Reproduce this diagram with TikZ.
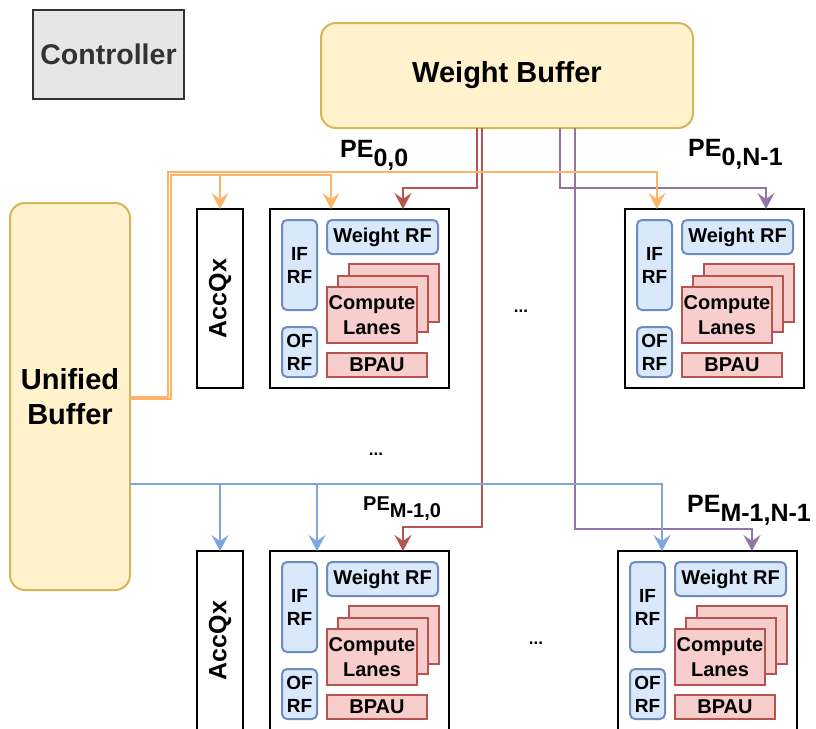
\documentclass[tikz,border=0pt]{standalone}
\usepackage{fontspec}
\setmainfont{Liberation Sans}
\usetikzlibrary{arrows.meta}
\definecolor{ylfill}{HTML}{FFF2CC}
\definecolor{yldraw}{HTML}{D6B656}
\definecolor{blfill}{HTML}{DAE8FC}
\definecolor{bldraw}{HTML}{6C8EBF}
\definecolor{rdfill}{HTML}{F8CECC}
\definecolor{rddraw}{HTML}{B85450}
\definecolor{orln}{HTML}{FFB366}
\definecolor{puln}{HTML}{9673A6}
\definecolor{blln}{HTML}{7EA6E0}
\definecolor{gyfill}{HTML}{E6E6E6}
\definecolor{gydraw}{HTML}{333333}
\tikzset{
  nw/.style={anchor=north west, inner sep=0pt, outer sep=0pt, line width=2pt, align=center},
  buffer/.style={nw, draw=yldraw, fill=ylfill, rounded corners=15pt, font=\bfseries\fontsize{29}{35}\selectfont},
  pebox/.style={nw, draw=black, fill=white, minimum width=179pt, minimum height=179pt},
  accbox/.style={nw, draw=black, fill=white, minimum width=46pt, minimum height=179pt},
  rf/.style={nw, draw=bldraw, fill=blfill, rounded corners=5pt, font=\bfseries\fontsize{19}{23}\selectfont},
  lane/.style={nw, draw=rddraw, fill=rdfill, font=\bfseries\fontsize{20}{25}\selectfont},
  pelabel/.style={anchor=base west, inner sep=0pt, font=\bfseries\fontsize{25}{30}\selectfont},
  dotlabel/.style={inner sep=0pt, font=\bfseries\fontsize{17}{20}\selectfont},
  conn/.style={line width=2pt, -{Stealth[length=16pt,width=17pt,inset=6pt]}},
}
\newcommand\peunit[3]{%
  \begin{scope}[shift={(#2,#3)}]
    \node[pebox] (#1) at (0,0) {};
    \node[rf, minimum width=35pt, minimum height=90pt] (#1-if) at (12,11) {IF\\RF};
    \node[rf, minimum width=35pt, minimum height=50pt] (#1-of) at (12,118) {OF\\RF};
    \node[rf, minimum width=111pt, minimum height=34pt, font=\bfseries\fontsize{20}{24}\selectfont] (#1-w) at (57,11) {Weight RF};
    \node[lane, minimum width=90pt, minimum height=58pt] (#1-l3) at (79,55) {};
    \node[lane, minimum width=90pt, minimum height=56pt] (#1-l2) at (68,67) {};
    \node[lane, minimum width=90pt, minimum height=56pt] (#1-l1) at (57,78) {Compute\\Lanes};
    \node[lane, minimum width=100pt, minimum height=24pt] (#1-bp) at (57,144) {BPAU};
  \end{scope}}
\newcommand\accunit[3]{%
  \node[accbox] (#1) at (#2,#3) {};
  \node[rotate=90, inner sep=0pt, font=\bfseries\fontsize{25}{30}\selectfont] (#1-t) at (#1.center) {AccQx};}
\begin{document}
\begin{tikzpicture}[x=1pt, y=-1pt]
\useasboundingbox (0,0) rectangle (816,728);
\clip (0,0) rectangle (816,728);
% top-level blocks
\node[nw, draw=gydraw, fill=gyfill, text=gydraw, minimum width=151pt, minimum height=89pt,
      font=\bfseries\fontsize{28.5}{34}\selectfont] (ctrl) at (33,10) {Controller};
\node[buffer, minimum width=372pt, minimum height=105pt] (wb) at (321,23) {Weight Buffer};
\node[buffer, minimum width=120pt, minimum height=387pt] (ub) at (10,203) {Unified\\Buffer};
% PE array
\accunit{acc0}{197}{209}
\peunit{pe00}{270}{209}
\peunit{pe01}{625}{209}
\accunit{accM}{197}{551}
\peunit{peM0}{270}{551}
\peunit{peMN}{618}{551}
% labels
\node[pelabel] (lab00) at (340,157) {PE\raisebox{-0.36em}{0,0}};
\node[pelabel] (lab01) at (688,156) {PE\raisebox{-0.36em}{0,N-1}};
\node[pelabel, font=\bfseries\fontsize{20}{24}\selectfont] (labM0) at (363,510) {PE\raisebox{-0.38em}{M-1,0}};
\node[pelabel] (labMN) at (687,512) {PE\raisebox{-0.38em}{M-1,N-1}};
\node[dotlabel] (dots1) at (521,311) {...};
\node[dotlabel] (dots2) at (376,454) {...};
\node[dotlabel] (dots3) at (536,643) {...};
% red (weight buffer -> column 0)
\draw[conn, rddraw] (477,0 |- wb.south) |- (403,188) -- (403,0 |- pe00.north);
\draw[conn, rddraw] (482,0 |- wb.south) |- (403,527) -- (403,0 |- peM0.north);
% purple (weight buffer -> column N-1)
\draw[conn, puln] (560,0 |- wb.south) |- (766,188) -- (766,0 |- pe01.north);
\draw[conn, puln] (575,0 |- wb.south) |- (752,529) -- (752,0 |- peMN.north);
% orange (unified buffer -> row 0)
\draw[conn, orln] (ub.east) -| (168,172) -| (657,0 |- pe01.north);
\draw[conn, orln] (ub.east |- 0,399) -| (170.5,174.5) -| (331,0 |- pe00.north);
\draw[conn, orln] (220,174.5) -- (acc0.north);
% blue (unified buffer -> row M-1)
\draw[conn, blln] (ub.east |- 0,484) -| (662,0 |- peMN.north);
\draw[conn, blln] (220,484) -- (accM.north);
\draw[conn, blln] (317,484) -- (317,0 |- peM0.north);
\end{tikzpicture}
\end{document}
